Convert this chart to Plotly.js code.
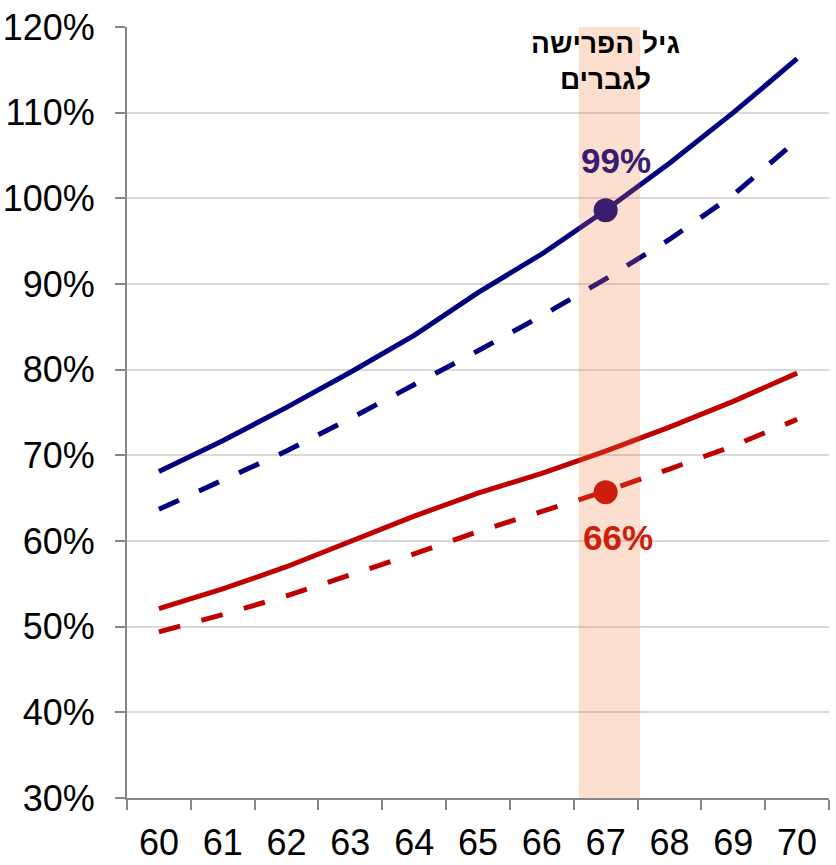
<!DOCTYPE html>
<html>
<head>
<meta charset="utf-8">
<script src="https://cdn.plot.ly/plotly-3.0.1.min.js"></script>
<style>html,body{margin:0;padding:0;background:#fff;}</style>
</head>
<body>
<div id="chart" style="width:836px;height:865px;"></div>
<script>
// Data (percent)
const ages = ['60','61','62','63','64','65','66','67','68','69','70'];
const blueSolid  = [68.1, 71.7, 75.6, 79.7, 84.0, 89.0, 93.5, 98.6, 104.1, 110.0, 116.3];
const blueDashed = [63.7, 67.1, 70.5, 74.3, 78.2, 82.2, 86.3, 90.6, 95.2, 100.4, 106.8];
const redSolid   = [52.1, 54.4, 57.0, 59.9, 62.9, 65.6, 67.9, 70.5, 73.3, 76.3, 79.6];
const redDashed  = [49.4, 51.4, 53.6, 56.0, 58.5, 61.1, 63.5, 65.8, 68.4, 71.1, 74.2];
const retirementAge = '67';
const highlightBlue = 98.6;
const highlightRed = 65.7;
const highlightBlueLabel = '99%';
const highlightRedLabel = '66%';
const bandTitle1 = 'גיל הפרישה';
const bandTitle2 = 'לגברים';
const yTicks = [30,40,50,60,70,80,90,100,110,120];

const NAVY = '#000080';
const RED = '#c00000';
const FONT = 'Liberation Sans, Arial, sans-serif';

const traces = [
  {x: ages, y: blueSolid, mode: 'lines', line: {color: NAVY, width: 5}, hoverinfo: 'skip'},
  {x: ages, y: blueDashed, mode: 'lines', line: {color: NAVY, width: 5, dash: '22px,22px'}, hoverinfo: 'skip'},
  {x: ages, y: redSolid, mode: 'lines', line: {color: RED, width: 5}, hoverinfo: 'skip'},
  {x: ages, y: redDashed, mode: 'lines', line: {color: RED, width: 5, dash: '22px,22px'}, hoverinfo: 'skip'},
  {x: [retirementAge], y: [highlightBlue], mode: 'markers', marker: {color: NAVY, size: 24}, hoverinfo: 'skip'},
  {x: [retirementAge], y: [highlightRed], mode: 'markers', marker: {color: RED, size: 24}, hoverinfo: 'skip'}
];

const ri = ages.indexOf(retirementAge);

const layout = {
  width: 836, height: 865,
  margin: {l: 127, r: 7, t: 27, b: 67},
  paper_bgcolor: '#ffffff', plot_bgcolor: '#ffffff',
  showlegend: false,
  font: {family: FONT, color: '#000000'},
  xaxis: {
    type: 'category', range: [-0.5, 10.5],
    tickson: 'boundaries', ticks: 'outside', ticklen: 10, tickwidth: 2, tickcolor: '#868686',
    showline: true, linecolor: '#868686', linewidth: 2,
    showgrid: false, zeroline: false,
    tickfont: {family: FONT, size: 36, color: '#000'},
    ticklabelstandoff: 12
  },
  yaxis: {
    range: [30, 120], tickmode: 'array', tickvals: yTicks, ticktext: yTicks.map(v => v + '%'),
    ticks: 'outside', ticklen: 10, tickwidth: 2, tickcolor: '#868686',
    showline: true, linecolor: '#868686', linewidth: 2,
    showgrid: true, gridcolor: '#d9d9d9', gridwidth: 2, zeroline: false,
    tickfont: {family: FONT, size: 36, color: '#000'},
    ticklabelstandoff: 13
  },
  shapes: [{
    type: 'rect', xref: 'x', yref: 'paper', x0: ri - 0.42, x1: ri + 0.54, y0: 0, y1: 1,
    fillcolor: 'rgba(245,120,60,0.24)', line: {width: 0}, layer: 'above'
  }],
  annotations: [
    {x: ri, y: 1, xref: 'x', yref: 'paper', yanchor: 'middle', yshift: -16, text: '<b>' + bandTitle1 + '</b>', showarrow: false, font: {family: FONT, size: 28, color: '#000'}},
    {x: ri, y: 1, xref: 'x', yref: 'paper', yanchor: 'middle', yshift: -52, text: '<b>' + bandTitle2 + '</b>', showarrow: false, font: {family: FONT, size: 28, color: '#000'}},
    {x: ri, y: highlightBlue, xref: 'x', yref: 'y', text: '<b>' + highlightBlueLabel + '</b>', showarrow: false, xshift: 10, yshift: 50, font: {family: FONT, size: 35, color: '#3b1d70'}},
    {x: ri, y: highlightRed, xref: 'x', yref: 'y', text: '<b>' + highlightRedLabel + '</b>', showarrow: false, xshift: 12, yshift: -45, font: {family: FONT, size: 35, color: '#cd1f0a'}}
  ]
};

Plotly.newPlot('chart', traces, layout, {displayModeBar: false, staticPlot: true});
</script>
</body>
</html>
